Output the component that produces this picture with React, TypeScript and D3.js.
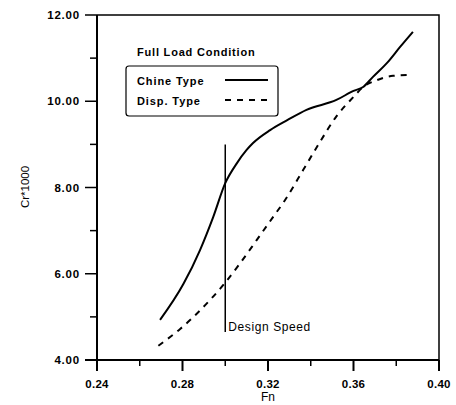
import React from "react";
import * as d3 from "d3";

const chineFn = [0.2695, 0.2804, 0.2882, 0.2944, 0.3, 0.3054, 0.31, 0.313, 0.321, 0.329, 0.338, 0.352, 0.36, 0.3645, 0.369, 0.3757, 0.3818, 0.3878];
const chineCr = [4.93, 5.76, 6.55, 7.32, 8.1, 8.56, 8.87, 9.03, 9.33, 9.56, 9.8, 10.03, 10.24, 10.33, 10.56, 10.89, 11.26, 11.61];
const dispFn = [0.2687, 0.2789, 0.2882, 0.2999, 0.3069, 0.3147, 0.322, 0.328, 0.3365, 0.344, 0.352, 0.36, 0.3645, 0.371, 0.3785, 0.3865];
const dispCr = [4.33, 4.72, 5.15, 5.79, 6.24, 6.78, 7.29, 7.71, 8.41, 9.03, 9.65, 10.1, 10.33, 10.49, 10.59, 10.61];
const xTicks = [0.24, 0.28, 0.32, 0.36, 0.4];
const xMinor = [0.26, 0.3, 0.34, 0.38];
const yTicks = [4, 6, 8, 10, 12];
const yMinor = [5, 7, 9, 11];
const designFn = 0.3;
const designTop = 9.0;
const designBottom = 4.65;

export default function App() {
  const W = 456, H = 405;
  const L = 97, R = 439, T = 15, B = 360;
  const x = d3.scaleLinear().domain([0.24, 0.4]).range([L, R]);
  const y = d3.scaleLinear().domain([4, 12]).range([B, T]);
  const line = d3
    .line<[number, number]>()
    .x((d) => x(d[0]))
    .y((d) => y(d[1]))
    .curve(d3.curveMonotoneX);
  const chine = chineFn.map((f, i) => [f, chineCr[i]] as [number, number]);
  const disp = dispFn.map((f, i) => [f, dispCr[i]] as [number, number]);
  const font = "'Liberation Sans', Arial, sans-serif";
  return (
    <svg width={W} height={H} style={{ position: "absolute", left: 0, top: 0, background: "#fff" }} fontFamily={font}>
      {/* frame */}
      <path d={`M${L},${T}H${R}V${B}`} fill="none" stroke="#000" strokeWidth={1.5} />
      <line x1={L} y1={T} x2={L} y2={B} stroke="#000" strokeWidth={2} />
      <line x1={L - 12} y1={B} x2={R} y2={B} stroke="#000" strokeWidth={2} />
      {/* y ticks */}
      {yTicks.map((v) => (
        <g key={"y" + v}>
          <line x1={L - 12} x2={L} y1={y(v)} y2={y(v)} stroke="#000" strokeWidth={1.5} />
          <text x={L - 17} y={y(v)} dy="0.35em" textAnchor="end" fontSize={11.5} fontWeight="bold" letterSpacing={0.8}>
            {v.toFixed(2)}
          </text>
        </g>
      ))}
      {yMinor.map((v) => (
        <line key={"ym" + v} x1={L - 7} x2={L} y1={y(v)} y2={y(v)} stroke="#000" strokeWidth={1.5} />
      ))}
      {/* x ticks */}
      {xTicks.map((v) => (
        <g key={"x" + v}>
          <line x1={x(v)} x2={x(v)} y1={B} y2={B + 11} stroke="#000" strokeWidth={2} />
          <text x={x(v)} y={B + 24} dy="0.35em" textAnchor="middle" fontSize={11.5} fontWeight="bold" letterSpacing={0.3}>
            {v.toFixed(2)}
          </text>
        </g>
      ))}
      {xMinor.map((v) => (
        <line key={"xm" + v} x1={x(v)} x2={x(v)} y1={B} y2={B + 6} stroke="#000" strokeWidth={1.5} />
      ))}
      <text x={x(0.32)} y={397} dy="0.35em" textAnchor="middle" fontSize={12}>Fn</text>
      <text transform={`translate(29,187) rotate(-90)`} textAnchor="middle" fontSize={11.5}>Cr*1000</text>
      {/* curves */}
      <path d={line(chine) || ""} fill="none" stroke="#000" strokeWidth={2} />
      <path d={line(disp) || ""} fill="none" stroke="#000" strokeWidth={2} strokeDasharray="6,6" />
      {/* design speed */}
      <line x1={x(designFn)} x2={x(designFn)} y1={y(designTop)} y2={y(designBottom)} stroke="#000" strokeWidth={1.5} />
      <text x={x(designFn) + 3} y={327} dy="0.35em" fontSize={12} letterSpacing={0.6}>Design Speed</text>
      {/* legend */}
      <text x={137} y={52} dy="0.35em" fontSize={11} fontWeight="bold" letterSpacing={0.8}>Full Load Condition</text>
      <rect x={126} y={66} width={152} height={50} rx={3} fill="none" stroke="#000" strokeWidth={1.2} />
      <text x={137} y={81} dy="0.35em" fontSize={11} fontWeight="bold" letterSpacing={0.9}>Chine Type</text>
      <line x1={225} x2={268} y1={80} y2={80} stroke="#000" strokeWidth={2} />
      <text x={137} y={101} dy="0.35em" fontSize={11} fontWeight="bold" letterSpacing={0.9}>Disp. Type</text>
      <line x1={225} x2={268} y1={100} y2={100} stroke="#000" strokeWidth={2} strokeDasharray="6,6" />
    </svg>
  );
}
